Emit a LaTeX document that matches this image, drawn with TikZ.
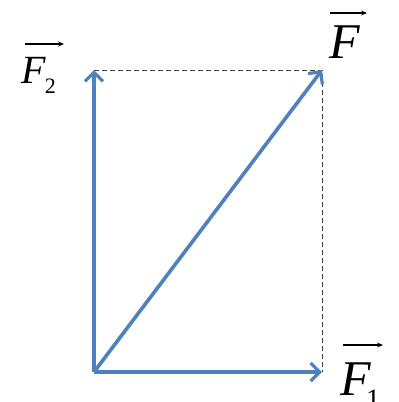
\documentclass[tikz,border=0pt]{standalone}
\usepackage{fontspec}
\setmainfont{Liberation Serif}
\usetikzlibrary{arrows.meta}
\definecolor{vecblue}{RGB}{79,129,189}
\tikzset{
  vec/.style={draw=vecblue, line width=3.6pt, -{Straight Barb[length=9pt,width=18pt,line width=3.2pt]}},
  guide/.style={draw=black!75, dashed, dash pattern=on 4.5pt off 3.5pt, line width=0.9pt},
  lbl/.style={inner sep=0pt, anchor=base west},
  overarrow/.style={draw=black, line width=1.4pt, -{Stealth[length=6pt,width=5pt]}}
}
\begin{document}
\begin{tikzpicture}[x=1pt,y=-1pt]
\useasboundingbox (0,0) rectangle (399,402);
\coordinate (O) at (94,372);
\coordinate (A) at (322,372);
\coordinate (B) at (94,70);
\coordinate (C) at (322,70);
\draw[guide] (B) -- (C) -- (A);
\draw[vec] (O) -- (A);
\draw[vec] (O) -- (B);
\draw[vec] (O) -- (C);
% labels
\node[lbl, font=\fontsize{40}{42}\selectfont] (f2) at (21,83) {\textit{F}\kern-1pt\raisebox{-10pt}{\fontsize{22}{24}\selectfont 2}};
\node[lbl, font=\fontsize{50}{52}\selectfont] (f) at (329,58) {\textit{F}};
\node[lbl, font=\fontsize{50}{52}\selectfont] (f1) at (340,395) {\textit{F}\kern-5pt\raisebox{-13pt}{\fontsize{28}{30}\selectfont 1}};
\coordinate (f2a) at (25,44);  \coordinate (f2b) at (64,44);
\coordinate (fa) at (330,13);  \coordinate (fb) at (367,13);
\coordinate (f1a) at (343,345); \coordinate (f1b) at (383,345);
\draw[overarrow] (f2a) -- (f2b);
\draw[overarrow] (fa) -- (fb);
\draw[overarrow] (f1a) -- (f1b);
\end{tikzpicture}
\end{document}
